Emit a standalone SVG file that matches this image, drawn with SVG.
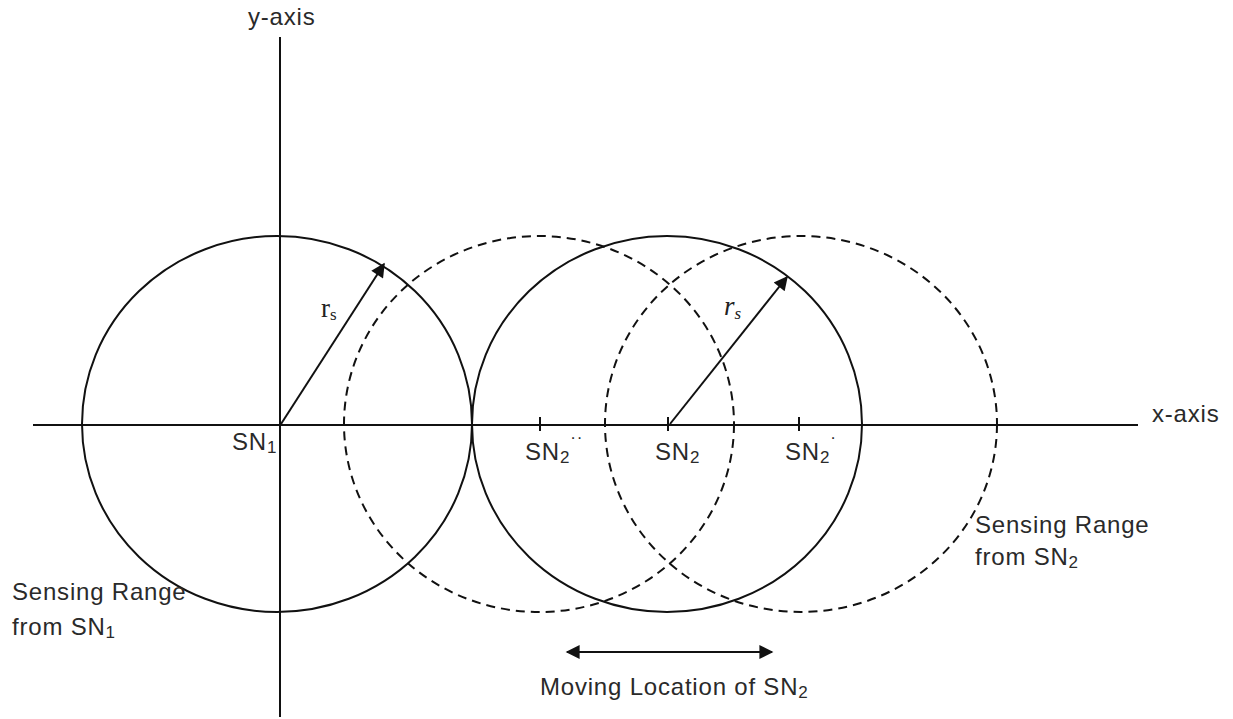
<svg xmlns="http://www.w3.org/2000/svg" width="1233" height="719" viewBox="0 0 1233 719">
<style>
.ln{stroke:#111;stroke-width:2;fill:none}
.dash{stroke:#111;stroke-width:2;fill:none;stroke-dasharray:9 6}
.t{font-family:"Liberation Sans",Arial,sans-serif;font-size:24px;fill:#2a2a2a;letter-spacing:0.8px}
.r{font-family:"Liberation Serif","Times New Roman",serif;font-size:27px;fill:#222}
.sub{font-size:17px}
</style>
<defs>
<marker id="ah2" viewBox="0 0 10 10" refX="9" refY="5" markerWidth="18" markerHeight="14" markerUnits="userSpaceOnUse" orient="auto-start-reverse">
<path d="M0,0 L10,5 L0,10 z" fill="#111"/>
</marker>
</defs>
<rect width="1233" height="719" fill="#fff"/>
<g id="axes">
<line class="ln" x1="33" y1="425" x2="1138" y2="425"/>
<line class="ln" x1="280" y1="37" x2="280" y2="717"/>
<text class="t" x="248" y="25">y-axis</text>
<text class="t" x="1152" y="422">x-axis</text>
</g>
<g id="range-sn1">
<ellipse class="ln" cx="277" cy="424" rx="195" ry="188"/>
</g>
<g id="range-sn2">
<ellipse class="ln" cx="667" cy="424" rx="195" ry="188"/>
</g>
<g id="range-sn2-left">
<ellipse class="dash" cx="539" cy="424" rx="195" ry="188"/>
</g>
<g id="range-sn2-right">
<ellipse class="dash" cx="801" cy="424" rx="196" ry="188"/>
</g>
<g id="ticks">
<line class="ln" x1="540" y1="417" x2="540" y2="431"/>
<line class="ln" x1="668" y1="417" x2="668" y2="431"/>
<line class="ln" x1="799" y1="417" x2="799" y2="431"/>
</g>
<g id="connectors">
<line class="ln" x1="281" y1="424" x2="384" y2="264" marker-end="url(#ah2)"/>
<line class="ln" x1="670" y1="424" x2="787" y2="277" marker-end="url(#ah2)"/>
<line class="ln" x1="567" y1="652" x2="772" y2="652" marker-start="url(#ah2)" marker-end="url(#ah2)"/>
</g>
<g id="labels">
<text class="r" x="321" y="317">r<tspan font-size="17" dy="3">s</tspan></text>
<text class="r" x="724" y="315" font-style="italic">r<tspan font-size="17" dy="4">s</tspan></text>
<text class="t" x="232" y="450">SN<tspan class="sub" dy="3">1</tspan></text>
<text class="t" x="525" y="460">SN<tspan class="sub" dy="3">2</tspan><tspan class="sub" dy="-20">··</tspan></text>
<text class="t" x="655" y="460">SN<tspan class="sub" dy="3">2</tspan></text>
<text class="t" x="785" y="460">SN<tspan class="sub" dy="3">2</tspan><tspan class="sub" dy="-20">·</tspan></text>
<text class="t" x="12" y="600">Sensing Range</text>
<text class="t" x="12" y="635">from SN<tspan class="sub" dy="3">1</tspan></text>
<text class="t" x="975" y="533">Sensing Range</text>
<text class="t" x="975" y="565">from SN<tspan class="sub" dy="3">2</tspan></text>
<text class="t" x="540" y="695">Moving Location of SN<tspan class="sub" dy="3">2</tspan></text>
</g>
</svg>
